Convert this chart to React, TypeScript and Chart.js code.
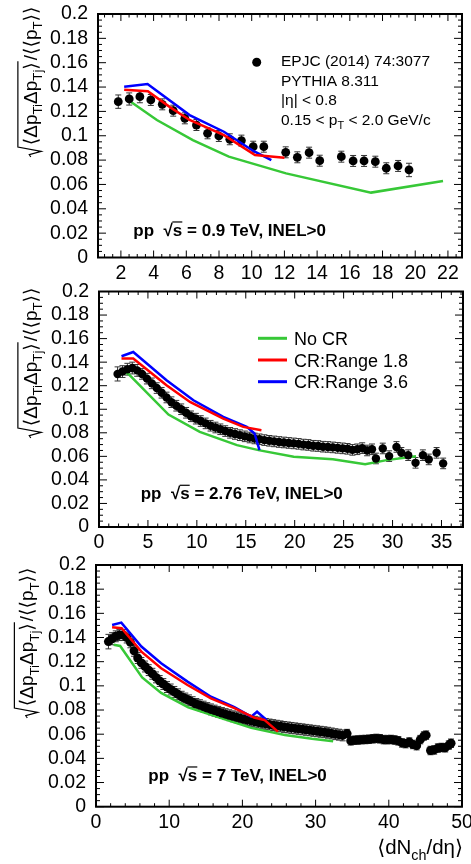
import React, { useEffect, useRef } from "react";
import { Chart, registerables } from "chart.js";
Chart.register(...registerables);

const FONT = '"Liberation Sans", Arial, Helvetica, "DejaVu Sans", sans-serif';

// ---------- shared axis ticks ----------
const yTickValues = [0, 0.02, 0.04, 0.06, 0.08, 0.1, 0.12, 0.14, 0.16, 0.18, 0.2];
const yTickLabels = ["0", "0.02", "0.04", "0.06", "0.08", "0.1", "0.12", "0.14", "0.16", "0.18", "0.2"];
const p1XTicks = [2, 4, 6, 8, 10, 12, 14, 16, 18, 20, 22];
const p2XTicks = [0, 5, 10, 15, 20, 25, 30, 35];
const p3XTicks = [0, 10, 20, 30, 40, 50];

// ---------- panel 1 : pp 0.9 TeV ----------
const p1DataX = [1.84, 2.51, 3.16, 3.83, 4.53, 5.2, 5.91, 6.62, 7.3, 7.99, 8.66, 9.37, 10.09, 10.74, 12.08, 12.79, 13.51, 14.16, 15.48, 16.2, 16.87, 17.56, 18.23, 18.95, 19.62];
const p1DataY = [0.128, 0.1302, 0.1321, 0.1294, 0.1258, 0.1206, 0.1143, 0.1088, 0.102, 0.0998, 0.0971, 0.096, 0.091, 0.091, 0.0864, 0.0823, 0.0861, 0.0795, 0.0828, 0.0793, 0.0793, 0.0787, 0.0733, 0.0752, 0.0719];
const p1DataErr = [0.0055, 0.005, 0.005, 0.0045, 0.0045, 0.0045, 0.0045, 0.0045, 0.0045, 0.0045, 0.0045, 0.0045, 0.0045, 0.0045, 0.0045, 0.0045, 0.0045, 0.0045, 0.0045, 0.0045, 0.0045, 0.0045, 0.0045, 0.0045, 0.0055];
const p1NoCrX = [2.6, 4.2, 6.4, 8.6, 12.1, 17.3, 21.7];
const p1NoCrY = [0.128, 0.1129, 0.0965, 0.0828, 0.0691, 0.0533, 0.0629];
const p1Cr18X = [2.2, 3.65, 5.0, 6.2, 8.3, 10.2, 12.0];
const p1Cr18Y = [0.1377, 0.1365, 0.1235, 0.113, 0.1005, 0.0842, 0.082];
const p1Cr36X = [2.2, 3.63, 6.2, 8.3, 10.1, 11.2];
const p1Cr36Y = [0.1403, 0.1425, 0.117, 0.1033, 0.0875, 0.08];

// ---------- panel 2 : pp 2.76 TeV ----------
const p2DataX = [1.9, 2.4, 2.9, 3.4, 3.9, 4.4, 4.9, 5.4, 5.9, 6.4, 6.9, 7.4, 7.9, 8.4, 8.9, 9.4, 9.9, 10.4, 10.9, 11.4, 11.9, 12.4, 12.9, 13.4, 13.9, 14.4, 14.9, 15.4, 15.9, 16.4, 16.9, 17.4, 17.9, 18.4, 18.9, 19.4, 19.9, 20.4, 20.9, 21.4, 21.9, 22.4, 22.9, 23.4, 23.9, 24.4, 24.9, 25.4, 25.9, 26.4, 26.9, 27.4, 27.9, 28.3, 29.0, 29.65, 30.4, 30.9, 31.6, 32.35, 33.1, 33.7, 34.5, 35.17];
const p2DataY = [0.13, 0.132, 0.134, 0.135, 0.133, 0.13, 0.126, 0.122, 0.118, 0.114, 0.11, 0.106, 0.103, 0.1, 0.097, 0.094, 0.092, 0.09, 0.088, 0.086, 0.0845, 0.083, 0.0815, 0.08, 0.079, 0.078, 0.077, 0.076, 0.0752, 0.0745, 0.0738, 0.0732, 0.0727, 0.0722, 0.0718, 0.0714, 0.071, 0.0706, 0.07, 0.0697, 0.069, 0.0688, 0.0682, 0.068, 0.0676, 0.0672, 0.0668, 0.0664, 0.0655, 0.066, 0.067, 0.065, 0.066, 0.0582, 0.0667, 0.0602, 0.068, 0.063, 0.061, 0.0545, 0.061, 0.0574, 0.063, 0.054];
const p2DataErr = [0.006, 0.005, 0.005, 0.005, 0.005, 0.0045, 0.0045, 0.0045, 0.0045, 0.0045, 0.0045, 0.0045, 0.0045, 0.0045, 0.0045, 0.0045, 0.0045, 0.0045, 0.0045, 0.0045, 0.0045, 0.0045, 0.0045, 0.0045, 0.0045, 0.0045, 0.0045, 0.0045, 0.0045, 0.0045, 0.0045, 0.0045, 0.0045, 0.0045, 0.0045, 0.0045, 0.0045, 0.0045, 0.0045, 0.0045, 0.0045, 0.0045, 0.0045, 0.0045, 0.0045, 0.0045, 0.0045, 0.0045, 0.0045, 0.0045, 0.0045, 0.0045, 0.0045, 0.0045, 0.0045, 0.0045, 0.0045, 0.0045, 0.0045, 0.0045, 0.0045, 0.0045, 0.0045, 0.0045];
const p2NoCrX = [2.3, 3.0, 7.1, 10.3, 14.1, 16.3, 19.9, 23.9, 27.2, 29.4, 32.4];
const p2NoCrY = [0.132, 0.13, 0.0955, 0.0808, 0.0695, 0.0653, 0.0596, 0.0576, 0.0534, 0.0568, 0.06];
const p2Cr18X = [2.3, 3.5, 6.9, 9.3, 12.7, 14.75, 16.6];
const p2Cr18Y = [0.143, 0.143, 0.1203, 0.1062, 0.0921, 0.085, 0.0822];
const p2Cr36X = [2.3, 3.5, 6.9, 9.65, 12.7, 15.1, 15.9, 16.4];
const p2Cr36Y = [0.145, 0.1486, 0.1246, 0.1076, 0.0935, 0.085, 0.0794, 0.0653];

// ---------- panel 3 : pp 7 TeV ----------
const p3DataX = [1.7, 2.2, 2.7, 3.2, 3.7, 4.2, 4.7, 5.2, 5.7, 6.2, 6.7, 7.2, 7.7, 8.2, 8.7, 9.2, 9.7, 10.2, 10.7, 11.2, 11.7, 12.2, 12.7, 13.2, 13.7, 14.2, 14.7, 15.2, 15.7, 16.2, 16.7, 17.2, 17.7, 18.2, 18.7, 19.2, 19.7, 20.2, 20.7, 21.2, 21.7, 22.2, 22.7, 23.2, 23.7, 24.2, 24.7, 25.2, 25.7, 26.2, 26.7, 27.2, 27.7, 28.2, 28.7, 29.2, 29.7, 30.2, 30.7, 31.2, 31.7, 32.2, 32.7, 33.2, 33.7, 34.3, 34.8, 35.3, 35.8, 36.3, 36.8, 37.3, 37.8, 38.3, 38.8, 39.3, 39.8, 40.3, 40.8, 41.3, 41.8, 42.3, 42.8, 43.3, 43.8, 44.3, 44.8, 45.1, 45.7, 46.2, 46.7, 47.2, 47.7, 48.2, 48.5];
const p3DataY = [0.1366, 0.139, 0.141, 0.142, 0.142, 0.14, 0.136, 0.129, 0.123, 0.119, 0.116, 0.113, 0.11, 0.107, 0.104, 0.1015, 0.099, 0.097, 0.095, 0.093, 0.091, 0.0895, 0.088, 0.0865, 0.085, 0.084, 0.0828, 0.0816, 0.0805, 0.0795, 0.0785, 0.0775, 0.0766, 0.0757, 0.0748, 0.074, 0.0732, 0.0724, 0.0717, 0.071, 0.0703, 0.0697, 0.069, 0.0685, 0.068, 0.0675, 0.067, 0.0665, 0.066, 0.0656, 0.0652, 0.0648, 0.0644, 0.064, 0.0636, 0.0632, 0.0628, 0.0624, 0.062, 0.0616, 0.0612, 0.0606, 0.06, 0.0596, 0.059, 0.0605, 0.0545, 0.055, 0.0552, 0.0555, 0.0556, 0.0558, 0.0562, 0.0565, 0.0562, 0.0555, 0.0555, 0.0556, 0.0552, 0.0545, 0.0528, 0.0522, 0.0535, 0.0515, 0.0505, 0.0555, 0.0585, 0.0592, 0.0465, 0.047, 0.0485, 0.049, 0.0488, 0.051, 0.0525];
const p3DataErr = [0.006, 0.005, 0.0045, 0.0045, 0.0045, 0.0045, 0.0045, 0.0045, 0.0045, 0.0045, 0.0045, 0.0045, 0.0045, 0.0045, 0.0045, 0.0045, 0.0045, 0.0045, 0.0045, 0.0045, 0.0045, 0.0045, 0.0045, 0.0045, 0.0045, 0.0045, 0.0045, 0.0045, 0.0045, 0.0045, 0.0045, 0.0045, 0.0045, 0.0045, 0.0045, 0.0045, 0.0045, 0.0045, 0.0045, 0.0045, 0.0045, 0.0045, 0.0045, 0.0045, 0.0045, 0.0045, 0.0045, 0.0045, 0.0045, 0.0045, 0.0045, 0.0045, 0.0045, 0.0045, 0.0045, 0.0045, 0.0045, 0.0045, 0.0045, 0.0045, 0.0045, 0.0045, 0.0045, 0.0045, 0.0045, 0.0035, 0.0035, 0.0035, 0.0035, 0.0035, 0.0035, 0.0035, 0.0035, 0.0035, 0.0035, 0.0035, 0.0035, 0.0035, 0.0035, 0.0035, 0.0035, 0.0035, 0.0035, 0.0035, 0.0035, 0.0035, 0.0035, 0.0035, 0.0035, 0.0035, 0.0035, 0.0035, 0.0035, 0.0035, 0.0035];
const p3NoCrX = [2.4, 3.3, 6.3, 8.9, 12.6, 17.2, 21.2, 25.8, 29.5, 32.4];
const p3NoCrY = [0.134, 0.133, 0.107, 0.0942, 0.0822, 0.0732, 0.0652, 0.0594, 0.0562, 0.0542];
const p3Cr18X = [2.2, 3.5, 6.2, 8.9, 12.5, 15.7, 18.9, 21.6, 23.0, 24.85];
const p3Cr18Y = [0.1485, 0.1477, 0.1283, 0.1146, 0.1007, 0.0897, 0.0815, 0.0737, 0.0718, 0.0621];
const p3Cr36X = [2.2, 3.46, 6.2, 8.9, 12.5, 15.7, 18.9, 21.2, 22.0, 23.3];
const p3Cr36Y = [0.1504, 0.1523, 0.1325, 0.1187, 0.1035, 0.091, 0.0823, 0.0745, 0.0786, 0.0718];

const legendLabels = ["No CR", "CR:Range 1.8", "CR:Range 3.6"];

const GREEN = "rgb(55,200,55)";
const RED = "rgb(255,0,0)";
const BLUE = "rgb(0,0,255)";
const W = 471;
const TICK_FONT = 19.5;

type Seg = { t: string; sub?: boolean };

function drawRich(ctx: CanvasRenderingContext2D, x: number, y: number, segs: Seg[], size: number, weight = "normal", align = "left") {
  const main = `${weight} ${size}px ${FONT}`;
  const small = `${weight} ${size * 0.7}px ${FONT}`;
  let w = 0;
  for (const s of segs) {
    ctx.font = s.sub ? small : main;
    w += ctx.measureText(s.t).width;
  }
  let cx = align === "right" ? x - w : x;
  ctx.textAlign = "left";
  for (const s of segs) {
    ctx.font = s.sub ? small : main;
    ctx.fillText(s.t, cx, y + (s.sub ? size * 0.3 : 0));
    cx += ctx.measureText(s.t).width;
  }
  return w;
}

function drawYTitle(ctx: CanvasRenderingContext2D, bx: number, by: number, size: number) {
  ctx.save();
  ctx.translate(bx, by);
  ctx.rotate(-Math.PI / 2);
  ctx.fillStyle = "#000";
  ctx.strokeStyle = "#000";
  ctx.textBaseline = "alphabetic";
  const radW = size * 0.62;
  const w1 = drawRich(ctx, radW, 0, [{ t: "⟨Δp" }, { t: "Ti", sub: true }, { t: "Δp" }, { t: "Tj", sub: true }, { t: "⟩" }], size);
  const top = -size * 0.98;
  ctx.lineWidth = 1.2;
  ctx.beginPath();
  ctx.moveTo(0, -size * 0.3);
  ctx.lineTo(size * 0.12, -size * 0.38);
  ctx.lineTo(size * 0.3, size * 0.25);
  ctx.lineTo(size * 0.52, top);
  ctx.lineTo(radW + w1 + 1, top);
  ctx.stroke();
  drawRich(ctx, radW + w1 + 2, 0, [{ t: "/⟨⟨p" }, { t: "T", sub: true }, { t: "⟩⟩" }], size);
  ctx.restore();
}

function drawEnergy(ctx: CanvasRenderingContext2D, x: number, y: number, energy: string, size: number) {
  ctx.save();
  ctx.fillStyle = "#000";
  ctx.textBaseline = "alphabetic";
  ctx.textAlign = "left";
  ctx.font = `bold ${size}px ${FONT}`;
  let cx = x;
  const a = "pp  ";
  ctx.fillText(a, cx, y);
  cx += ctx.measureText(a).width;
  ctx.fillText("√", cx, y);
  cx += ctx.measureText("√").width;
  ctx.fillText("s", cx, y);
  const sw = ctx.measureText("s").width;
  ctx.fillRect(cx - 0.5, y - size * 0.86, sw + 0.5, Math.max(1.2, size * 0.07));
  cx += sw;
  ctx.fillText(` = ${energy} TeV, INEL>0`, cx, y);
  ctx.restore();
}

const pts = (xs: number[], ys: number[]) => xs.map((x, i) => ({ x, y: ys[i] }));

interface PanelSpec {
  top: number;
  height: number;
  area: { left: number; right: number; top: number; bottom: number };
  xMin: number;
  xMax: number;
  xTicks: number[];
  xMinorStep: number;
  pointRadius: number;
  dataX: number[];
  dataY: number[];
  dataErr: number[];
  noCr: [number[], number[]];
  cr18: [number[], number[]];
  cr36: [number[], number[]];
  drawText: (ctx: CanvasRenderingContext2D) => void;
}

const panels: PanelSpec[] = [
  {
    top: 0,
    height: 283,
    area: { left: 98, right: 462, top: 14, bottom: 257.5 },
    xMin: 0.6,
    xMax: 22.86,
    xTicks: p1XTicks,
    xMinorStep: 0.5,
    pointRadius: 4.4,
    dataX: p1DataX,
    dataY: p1DataY,
    dataErr: p1DataErr,
    noCr: [p1NoCrX, p1NoCrY],
    cr18: [p1Cr18X, p1Cr18Y],
    cr36: [p1Cr36X, p1Cr36Y],
    drawText: (ctx) => {
      ctx.fillStyle = "#000";
      ctx.beginPath();
      ctx.arc(256.7, 62.3, 4.5, 0, Math.PI * 2);
      ctx.fill();
      ctx.textBaseline = "alphabetic";
      ctx.textAlign = "left";
      ctx.font = `15.5px ${FONT}`;
      ctx.fillText("EPJC (2014) 74:3077", 281, 66);
      ctx.fillText("PYTHIA 8.311", 281, 85.5);
      ctx.fillText("|η| < 0.8", 281, 105);
      drawRich(ctx, 281, 124.5, [{ t: "0.15 < p" }, { t: "T", sub: true }, { t: " < 2.0 GeV/c" }], 15.5);
      drawEnergy(ctx, 133.3, 236, "0.9", 17);
      drawYTitle(ctx, 36.5, 157, 19);
    },
  },
  {
    top: 283,
    height: 267,
    area: { left: 99, right: 463, top: 8.5, bottom: 244 },
    xMin: 0,
    xMax: 37.2,
    xTicks: p2XTicks,
    xMinorStep: 1,
    pointRadius: 4.2,
    dataX: p2DataX,
    dataY: p2DataY,
    dataErr: p2DataErr,
    noCr: [p2NoCrX, p2NoCrY],
    cr18: [p2Cr18X, p2Cr18Y],
    cr36: [p2Cr36X, p2Cr36Y],
    drawText: (ctx) => {
      const cols = [GREEN, RED, BLUE];
      const ys = [55.3, 77, 98.7];
      ctx.textBaseline = "alphabetic";
      ctx.textAlign = "left";
      for (let i = 0; i < 3; i++) {
        ctx.strokeStyle = cols[i];
        ctx.lineWidth = 3;
        ctx.beginPath();
        ctx.moveTo(258, ys[i]);
        ctx.lineTo(287, ys[i]);
        ctx.stroke();
        ctx.fillStyle = "#000";
        ctx.font = `18px ${FONT}`;
        ctx.fillText(legendLabels[i], 294, ys[i] + 6.5);
      }
      drawEnergy(ctx, 140.7, 216.3, "2.76", 17);
      drawYTitle(ctx, 36.5, 155, 19);
    },
  },
  {
    top: 550,
    height: 314,
    area: { left: 96, right: 462, top: 15, bottom: 256.7 },
    xMin: 0,
    xMax: 50,
    xTicks: p3XTicks,
    xMinorStep: 2,
    pointRadius: 4.5,
    dataX: p3DataX,
    dataY: p3DataY,
    dataErr: p3DataErr,
    noCr: [p3NoCrX, p3NoCrY],
    cr18: [p3Cr18X, p3Cr18Y],
    cr36: [p3Cr36X, p3Cr36Y],
    drawText: (ctx) => {
      drawEnergy(ctx, 148.3, 231, "7", 17);
      drawYTitle(ctx, 33, 168, 19);
      ctx.fillStyle = "#000";
      ctx.textBaseline = "alphabetic";
      drawRich(ctx, 463, 304, [{ t: "⟨dN" }, { t: "ch", sub: true }, { t: "/dη⟩" }], 20.5, "normal", "right");
    },
  },
];

function makeConfig(spec: PanelSpec): any {
  const H = spec.height;
  const A = spec.area;
  const lineDs = (label: string, xy: [number[], number[]], color: string, order: number) => ({
    label,
    data: pts(xy[0], xy[1]),
    showLine: true,
    borderColor: color,
    backgroundColor: color,
    borderWidth: 2.5,
    pointRadius: 0,
    tension: 0,
    fill: false,
    order,
  });
  const datasets = [
    lineDs(legendLabels[0], spec.noCr, GREEN, 3),
    {
      label: "data",
      data: pts(spec.dataX, spec.dataY),
      showLine: false,
      pointRadius: spec.pointRadius,
      pointBackgroundColor: "#000",
      pointBorderColor: "#000",
      pointBorderWidth: 0,
      order: 2,
    },
    lineDs(legendLabels[2], spec.cr36, BLUE, 1),
    lineDs(legendLabels[1], spec.cr18, RED, 0),
  ];

  const overlay = {
    id: "overlay",
    beforeDatasetsDraw(chart: any) {
      const { ctx, scales } = chart;
      const xs = scales.x;
      const ys = scales.y;
      ctx.save();
      ctx.strokeStyle = "#333";
      ctx.lineWidth = 1;
      ctx.beginPath();
      spec.dataX.forEach((x, i) => {
        const px = xs.getPixelForValue(x);
        const y1 = ys.getPixelForValue(spec.dataY[i] - spec.dataErr[i]);
        const y2 = ys.getPixelForValue(spec.dataY[i] + spec.dataErr[i]);
        ctx.moveTo(px, y1);
        ctx.lineTo(px, y2);
        ctx.moveTo(px - 3, y1);
        ctx.lineTo(px + 3, y1);
        ctx.moveTo(px - 3, y2);
        ctx.lineTo(px + 3, y2);
      });
      ctx.stroke();
      ctx.restore();
    },
    afterDraw(chart: any) {
      const { ctx, chartArea: a, scales } = chart;
      const xs = scales.x;
      const ys = scales.y;
      ctx.save();
      ctx.strokeStyle = "#000";
      ctx.lineWidth = 1;
      ctx.beginPath();
      for (let v = 0; v <= 0.2001; v += 0.005) {
        const major = Math.abs(v / 0.02 - Math.round(v / 0.02)) < 1e-6;
        const len = major ? 8 : 4;
        const py = ys.getPixelForValue(v);
        ctx.moveTo(a.left, py);
        ctx.lineTo(a.left + len, py);
        ctx.moveTo(a.right, py);
        ctx.lineTo(a.right - len, py);
      }
      const start = Math.ceil(spec.xMin / spec.xMinorStep - 1e-6) * spec.xMinorStep;
      for (let v = start; v <= spec.xMax + 1e-6; v += spec.xMinorStep) {
        const major = spec.xTicks.some((t) => Math.abs(t - v) < 1e-6);
        const len = major ? 7 : 3.5;
        const px = xs.getPixelForValue(v);
        ctx.moveTo(px, a.bottom);
        ctx.lineTo(px, a.bottom - len);
        ctx.moveTo(px, a.top);
        ctx.lineTo(px, a.top + len);
      }
      ctx.stroke();
      ctx.lineWidth = 2;
      ctx.strokeRect(a.left, a.top, a.right - a.left, a.bottom - a.top);
      ctx.restore();
      ctx.save();
      spec.drawText(ctx);
      ctx.restore();
    },
  };

  return {
    type: "scatter",
    data: { datasets },
    plugins: [overlay],
    options: {
      animation: false,
      responsive: false,
      maintainAspectRatio: false,
      devicePixelRatio: 1,
      events: [],
      layout: { padding: { top: A.top, right: W - A.right, left: 0, bottom: 0 } },
      plugins: { legend: { display: false }, tooltip: { enabled: false }, title: { display: false } },
      scales: {
        x: {
          type: "linear",
          min: spec.xMin,
          max: spec.xMax,
          grid: { display: false, drawTicks: false },
          border: { display: false },
          ticks: {
            color: "#000",
            font: { family: FONT, size: TICK_FONT },
            padding: 4,
            maxRotation: 0,
            minRotation: 0,
            autoSkip: false,
            callback: (v: number) => String(v),
          },
          afterBuildTicks: (s: any) => {
            s.ticks = spec.xTicks.map((v) => ({ value: v }));
          },
          afterFit: (s: any) => {
            s.height = H - A.bottom;
            s.paddingLeft = 0;
            s.paddingRight = 0;
          },
        },
        y: {
          type: "linear",
          min: 0,
          max: 0.2,
          grid: { display: false, drawTicks: false },
          border: { display: false },
          ticks: {
            color: "#000",
            font: { family: FONT, size: TICK_FONT },
            padding: 10,
            autoSkip: false,
            callback: (_v: number, i: number) => yTickLabels[i],
          },
          afterBuildTicks: (s: any) => {
            s.ticks = yTickValues.map((v) => ({ value: v }));
          },
          afterFit: (s: any) => {
            s.width = A.left;
            s.paddingTop = 0;
            s.paddingBottom = 0;
          },
        },
      },
    },
  };
}

function Panel({ spec }: { spec: PanelSpec }) {
  const ref = useRef<HTMLCanvasElement | null>(null);
  useEffect(() => {
    if (!ref.current) return;
    const chart = new Chart(ref.current, makeConfig(spec));
    return () => chart.destroy();
  }, [spec]);
  return (
    <canvas
      ref={ref}
      width={W}
      height={spec.height}
      style={{ position: "absolute", left: 0, top: spec.top, width: W, height: spec.height, display: "block" }}
    />
  );
}

export default function App() {
  return (
    <div style={{ position: "absolute", left: 0, top: 0, width: W, height: 864, background: "#fff", overflow: "hidden" }}>
      {panels.map((p, i) => (
        <Panel key={i} spec={p} />
      ))}
    </div>
  );
}
